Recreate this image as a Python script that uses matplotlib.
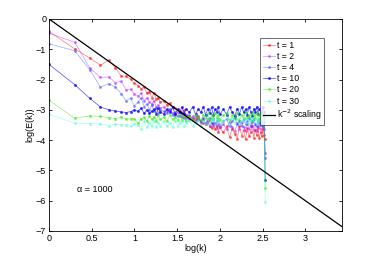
import numpy as np
import matplotlib
matplotlib.use('Agg')
import matplotlib.pyplot as plt

plt.rcParams['font.family'] = ['Liberation Sans', 'DejaVu Sans']

# wavenumbers sampled (denser at low k, coarser in the noisy tail)
k = list(range(1, 21)) + list(range(22, 41, 2)) + list(range(44, 101, 4)) + list(range(110, 341, 10))
logk = np.log10(k)

E_t1 = [-0.41, -0.99, -1.29, -1.53, -1.36, -1.62, -1.88, -1.90, -1.98, -2.12,
        -2.20, -2.30, -2.25, -2.45, -2.40, -2.60, -2.45, -2.65, -2.60, -2.75,
        -2.70, -2.85, -2.78, -2.90, -2.95, -3.00, -3.05, -3.12, -3.02, -3.18,
        -3.20, -3.28, -3.30, -3.22, -3.38, -3.42, -3.48, -3.35, -3.55, -3.60,
        -3.45, -3.65, -3.52, -3.72, -3.58,
        -3.75, -3.55, -3.90, -3.62, -3.80, -3.95, -3.55, -3.85, -3.68, -3.98,
        -3.60, -3.88, -3.72, -3.55, -3.92, -3.66, -3.84, -3.60, -3.94, -3.72,
        -3.88, -3.65, -3.82, -3.97]
E_t2 = [-0.47, -0.77, -1.62, -1.93, -1.92, -2.10, -2.06, -2.34, -2.32, -2.49,
        -2.55, -2.45, -2.70, -2.60, -2.75, -2.80, -2.70, -2.90, -2.85, -2.95,
        -2.90, -3.05, -3.00, -3.10, -3.18, -3.08, -3.22, -3.12, -3.28, -3.18,
        -3.32, -3.22, -3.38, -3.28, -3.44, -3.32, -3.48, -3.38, -3.55, -3.42,
        -3.55, -3.42, -3.60, -3.48, -3.58,
        -3.48, -3.65, -3.40, -3.58, -3.70, -3.45, -3.62, -3.40, -3.57, -3.70,
        -3.46, -3.63, -3.52, -3.40, -3.66, -3.48, -3.70, -3.52, -3.45, -3.64,
        -3.42, -3.58, -3.62, -4.44]
E_t4 = [-0.82, -1.05, -1.68, -2.25, -2.14, -2.25, -2.47, -2.70, -2.62, -2.87,
        -2.75, -2.60, -2.90, -2.80, -3.00, -2.85, -3.05, -2.95, -3.10, -3.00,
        -3.05, -3.12, -2.98, -3.18, -3.08, -3.22, -3.08, -3.24, -3.12, -3.28,
        -3.18, -3.33, -3.22, -3.32, -3.38, -3.26, -3.44, -3.32, -3.26, -3.44,
        -3.32, -3.48, -3.38, -3.30, -3.50,
        -3.38, -3.30, -3.54, -3.38, -3.26, -3.48, -3.36, -3.55, -3.30, -3.48,
        -3.38, -3.26, -3.54, -3.36, -3.30, -3.48, -3.55, -3.38, -3.30, -3.50,
        -3.36, -3.54, -3.40, -4.60]
E_t10 = [-1.50, -2.17, -2.62, -2.91, -3.00, -3.04, -3.07, -3.09, -3.06, -3.00,
         -3.05, -2.95, -3.12, -3.00, -3.12, -3.05, -2.98, -3.14, -2.94, -3.06,
         -3.14, -2.98, -3.08, -2.92, -3.14, -2.98, -3.08, -2.90, -3.14, -2.98,
         -3.08, -2.90, -3.15, -2.98, -3.08, -2.90, -3.16, -2.98, -3.10, -2.92,
         -3.16, -2.98, -3.08, -2.90, -3.15,
         -2.98, -3.16, -2.90, -3.08, -3.20, -2.96, -3.14, -2.90, -3.08, -2.98,
         -3.16, -2.90, -3.06, -3.20, -2.96, -3.08, -2.90, -3.15, -2.98, -3.06,
         -3.16, -2.92, -3.06, -5.32]
E_t20 = [-2.68, -3.28, -3.20, -3.22, -3.26, -3.29, -3.25, -3.30, -3.30, -3.29,
         -3.45, -3.30, -3.25, -3.38, -3.20, -3.32, -3.24, -3.38, -3.18, -3.32,
         -3.24, -3.38, -3.18, -3.32, -3.24, -3.33, -3.18, -3.33, -3.22, -3.38,
         -3.22, -3.33, -3.16, -3.26, -3.34, -3.16, -3.28, -3.12, -3.34, -3.18,
         -3.28, -3.10, -3.28, -3.16, -3.34,
         -3.18, -3.10, -3.34, -3.18, -3.28, -3.10, -3.34, -3.16, -3.28, -3.06,
         -3.28, -3.16, -3.34, -3.10, -3.18, -3.28, -3.10, -3.34, -3.16, -3.28,
         -3.10, -3.20, -3.28, -5.60]
E_t30 = [-3.15, -3.44, -3.46, -3.46, -3.53, -3.47, -3.50, -3.49, -3.55, -3.46,
         -3.50, -3.64, -3.38, -3.58, -3.42, -3.54, -3.36, -3.58, -3.42, -3.52,
         -3.36, -3.54, -3.42, -3.58, -3.36, -3.52, -3.42, -3.36, -3.54, -3.42,
         -3.36, -3.52, -3.42, -3.36, -3.52, -3.36, -3.46, -3.30, -3.48, -3.36,
         -3.30, -3.48, -3.36, -3.30, -3.48,
         -3.38, -3.28, -3.48, -3.26, -3.42, -3.30, -3.48, -3.38, -3.26, -3.42,
         -3.30, -3.48, -3.38, -3.26, -3.42, -3.30, -3.48, -3.38, -3.30, -3.26,
         -3.40, -3.48, -3.32, -6.05]

labels = ['t = 1', 't = 2', 't = 4', 't = 10', 't = 20', 't = 30']
series = [E_t1, E_t2, E_t4, E_t10, E_t20, E_t30]
colors = ['#ff0000', '#bb22ff', '#3344ff', '#0000ff', '#22ee00', '#44ffcc']
alphas = [0.45, 0.45, 0.4, 0.6, 0.45, 0.4]

# reference power law k^-2
line_x = [0, 3.43]
slope = -2

fig = plt.figure(figsize=(3.77, 2.6), dpi=100)
ax = fig.add_axes([0.13, 0.112, 0.777, 0.815])

for E, lab, c, a in zip(series, labels, colors, alphas):
    ax.plot(logk, E, '-', marker='.', markersize=2.5, color=c, alpha=a, lw=0.6, label=lab)

ax.plot(line_x, [slope * x for x in line_x], 'k-', lw=0.9, label='k$^{-2}$ scaling')

ax.set_xlim(0, 3.43)
ax.set_ylim(-7, 0)
ax.set_xticks([0, 0.5, 1, 1.5, 2, 2.5, 3])
ax.set_xticklabels(['0', '0.5', '1', '1.5', '2', '2.5', '3'])
ax.set_yticks(range(-7, 1))
ax.tick_params(direction='in', length=2.5, width=0.6, labelsize=6.5, top=True, right=True, pad=2)
for s in ax.spines.values():
    s.set_linewidth(0.6)

ax.set_xlabel('log(k)', fontsize=6.5, labelpad=1)
ax.set_ylabel('log(E(k))', fontsize=6.5, labelpad=1)
ax.text(0.33, -5.63, '\u03b1 = 1000', fontsize=6.5, va='center')

leg = ax.legend(loc='upper right', bbox_to_anchor=(0.94, 0.91), fontsize=6.3, frameon=True,
                fancybox=False, edgecolor='black', handlelength=1.4, handletextpad=0.2,
                borderpad=0.3, labelspacing=0.25, borderaxespad=0)
leg.get_frame().set_linewidth(0.5)

fig.savefig('out.png', dpi=100)
